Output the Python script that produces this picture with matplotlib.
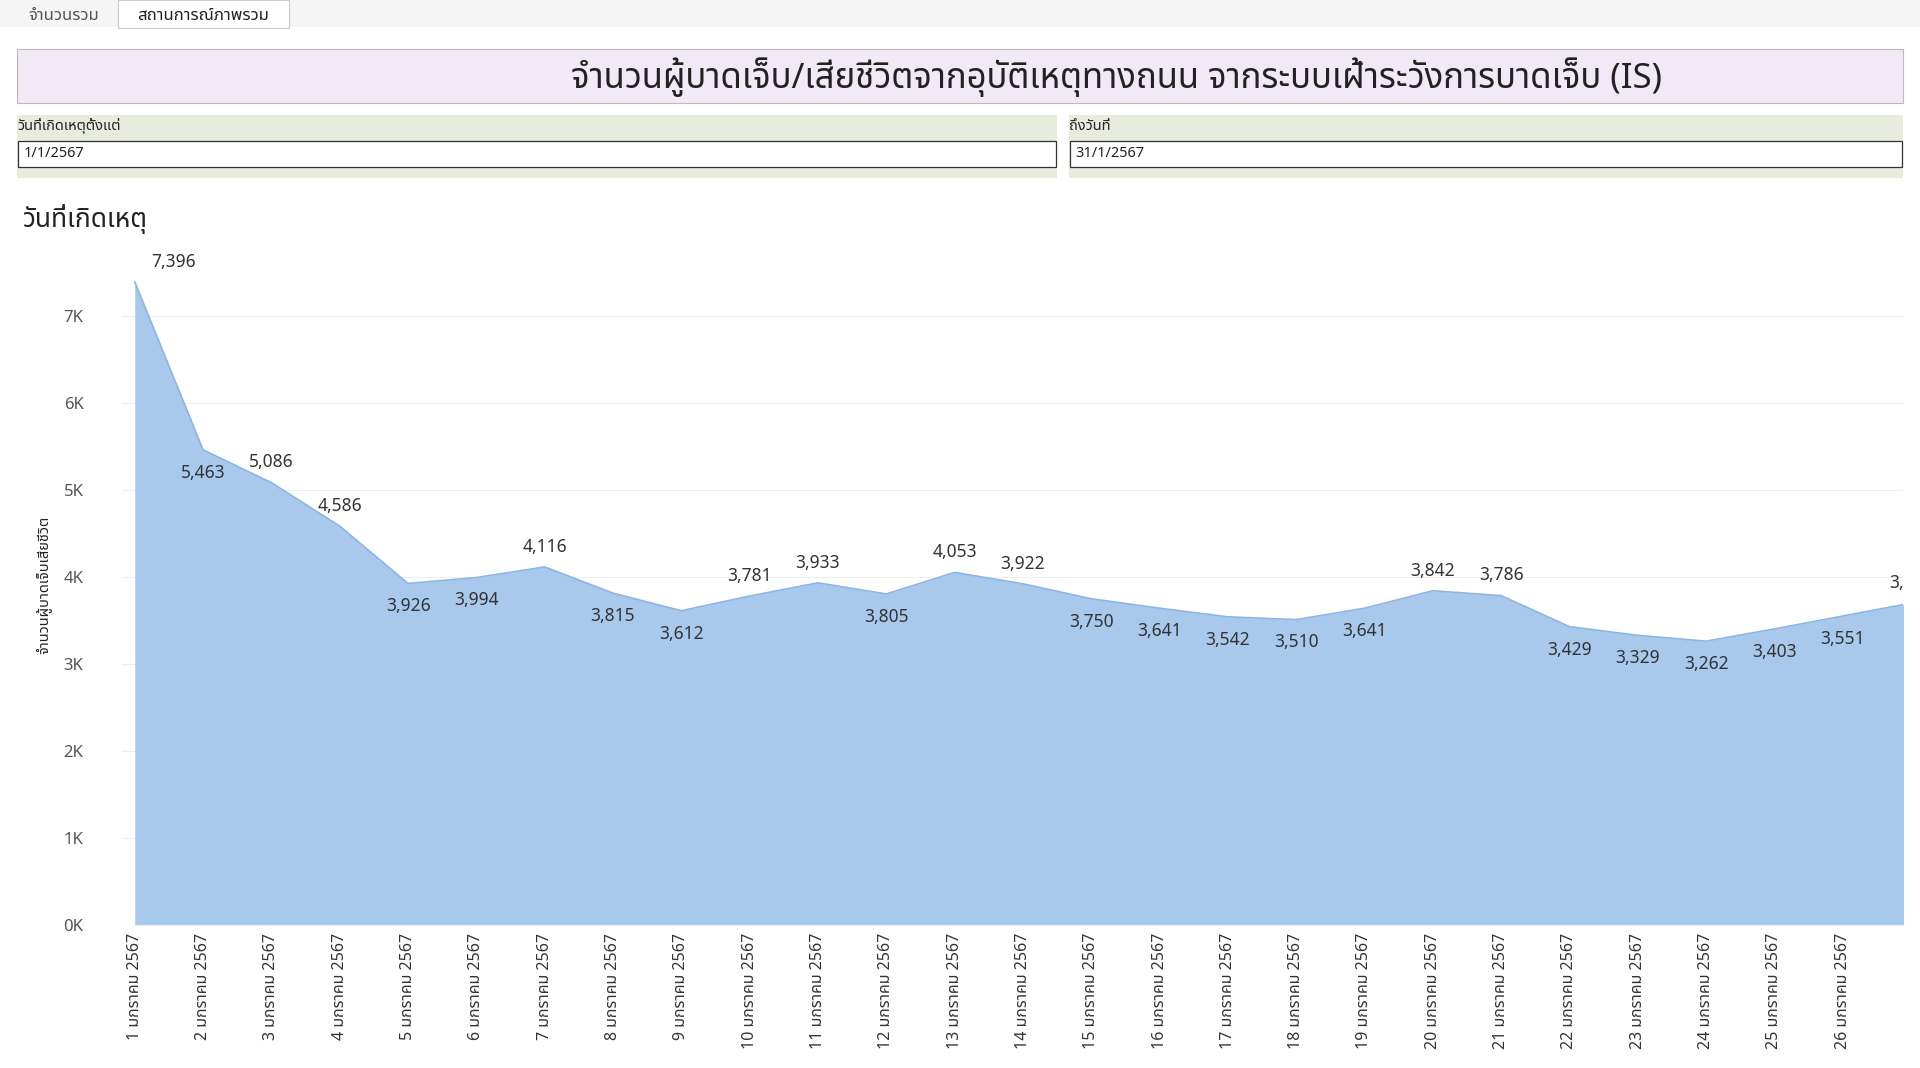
import matplotlib
matplotlib.use("Agg")
import matplotlib.pyplot as plt
from matplotlib.patches import Rectangle
from matplotlib.ticker import FuncFormatter, MultipleLocator

plt.rcParams['font.family'] = ['Noto Sans Thai', 'Noto Sans', 'Tahoma', 'DejaVu Sans']

days = list(range(1, 28))
dates = [f"{d} มกราคม 2567" for d in days]
values = [7396, 5463, 5086, 4586, 3926, 3994, 4116, 3815, 3612, 3781, 3933, 3805, 4053, 3922,
          3750, 3641, 3542, 3510, 3641, 3842, 3786, 3429, 3329, 3262, 3403, 3551, 3700]
label_above = [1, 0, 1, 1, 0, 0, 1, 0, 0, 1, 1, 0, 1, 1, 0, 0, 0, 0, 0, 1, 1, 0, 0, 0, 0, 0, 1]

W, H = 1568, 872
fig = plt.figure(figsize=(19.2, 10.68), dpi=100)

def fx(x): return x / W
def fy(y): return 1 - y / H

def rect(x0, y0, x1, y1, **kw):
    fig.patches.append(Rectangle((fx(x0), fy(y1)), fx(x1) - fx(x0), fy(y0) - fy(y1),
                                 transform=fig.transFigure, **kw))

# tab bar
rect(0, 0, W, 22, facecolor='#f5f5f5', edgecolor='none')
rect(96, 0, 236, 23, facecolor='white', edgecolor='#cccccc', lw=0.8)
fig.text(fx(52), fy(13), 'จำนวนรวม', ha='center', va='center', fontsize=12, color='#555555')
fig.text(fx(166), fy(13), 'สถานการณ์ภาพรวม', ha='center', va='center', fontsize=12, color='#222222')

# title box
rect(14, 40, 1554, 84, facecolor='#f1eaf6', edgecolor='#bbbbbb', lw=0.8)
fig.text(fx(912), fy(63), 'จำนวนผู้บาดเจ็บ/เสียชีวิตจากอุบัติเหตุทางถนน จากระบบเฝ้าระวังการบาดเจ็บ (IS)',
         ha='center', va='center', fontsize=25, color='#222222')

# filters
for x0, x1, lab, val in [(14, 863, 'วันที่เกิดเหตุตั้งแต่', '1/1/2567'), (873, 1554, 'ถึงวันที่', '31/1/2567')]:
    rect(x0, 94, x1, 145, facecolor='#e7ecdc', edgecolor='none')
    rect(x0 + 1, 115, x1 - 1, 136, facecolor='white', edgecolor='#333333', lw=0.9)
    fig.text(fx(x0), fy(103), lab, ha='left', va='center', fontsize=10.5, fontweight='bold', color='#222222')
    fig.text(fx(x0 + 5), fy(125), val, ha='left', va='center', fontsize=10.5, color='#222222')

fig.text(fx(18), fy(179), 'วันที่เกิดเหตุ', ha='left', va='center', fontsize=19, fontweight='bold', color='#222222')

# chart
ax = fig.add_axes([fx(100), fy(755), fx(1554) - fx(100), fy(200) - fy(755)])
x = list(range(len(values)))
ax.fill_between(x, values, 0, color='#a8c8ec', lw=0)
ax.plot(x, values, color='#8db5e2', lw=1.2)
ax.set_xlim(-0.18, 25.88)
ax.set_ylim(0, 7820)
ax.yaxis.set_major_locator(MultipleLocator(1000))
ax.yaxis.set_major_formatter(FuncFormatter(lambda v, p: f"{int(v/1000)}K"))
ax.grid(axis='y', color='#eeeeee', lw=0.8)
ax.set_axisbelow(True)
for s in ax.spines.values():
    s.set_visible(False)
ax.tick_params(axis='y', length=0, labelsize=12, labelcolor='#555555', pad=28)
ax.set_xticks(x[:-1])
ax.set_xticklabels(dates[:-1], rotation=90, fontsize=11.5, color='#333333')
ax.tick_params(axis='x', length=0, pad=6)
ax.set_ylabel('จำนวนผู้บาดเจ็บเสียชีวิต', fontsize=10.5, fontweight='bold', color='#222222', labelpad=8)
for i, (v, up) in enumerate(zip(values, label_above)):
    ax.annotate(f"{v:,}", (i, v), xytext=(12 if i == 0 else 0, 8 if up else -10),
                textcoords='offset points', ha='left' if i == 0 else 'center',
                va='bottom' if up else 'top', fontsize=12.5, color='#333333',
                clip_on=True, annotation_clip=False)

fig.savefig('out.png', dpi=100)
